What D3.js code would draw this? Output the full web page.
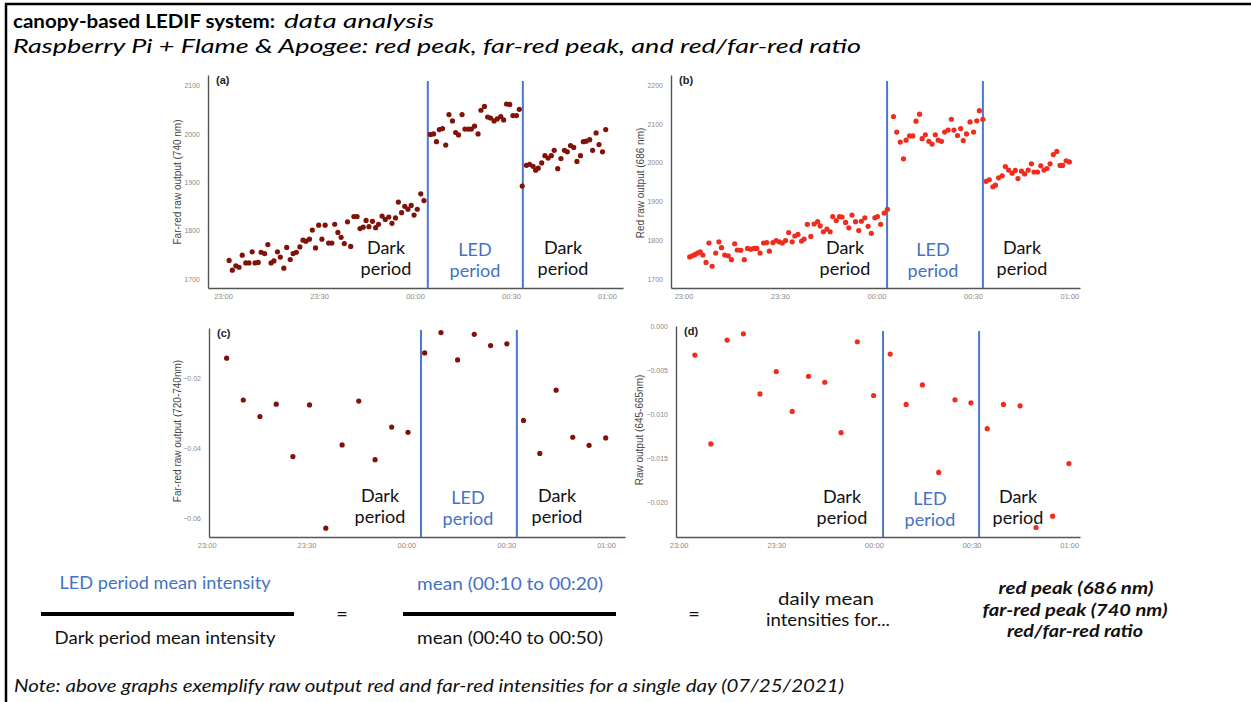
<!DOCTYPE html>
<html><head><meta charset="utf-8">
<script src="https://cdn.jsdelivr.net/npm/d3@7"></script>
<style>body{margin:0;background:#fff}svg{display:block}</style>
</head><body><svg id="c" width="1251" height="702"></svg>
<script>
// ---------- data (minutes after 23:00) ----------
const tickMinutes = [0, 30, 60, 90, 120];
const tickLabels = ["23:00", "23:30", "00:00", "00:30", "01:00"];

// (a) Far-red raw output (740 nm)
const farRedTimes = [1.9,2.9,4.0,5.0,6.0,7.1,8.1,9.1,10.0,11.0,11.9,13.0,14.0,15.0,15.9,17.0,17.9,19.0,19.9,21.0,21.9,22.9,24.0,25.0,25.9,27.0,27.9,28.9,29.9,30.9,31.9,33.0,34.0,34.9,35.9,36.9,37.9,38.9,39.9,40.9,41.9,42.8,43.8,44.7,45.6,46.7,47.7,48.6,49.7,50.7,51.8,52.8,53.9,54.8,55.8,56.8,57.8,58.8,59.7,60.7,61.8,62.8,
  64.8,65.8,66.7,67.6,68.6,69.6,70.6,71.7,72.7,73.6,74.7,75.6,76.7,77.6,78.6,79.7,80.6,81.7,82.7,83.6,84.7,85.7,86.8,87.7,88.6,89.6,90.6,91.7,92.6,
  93.5,94.8,95.8,96.9,97.7,98.5,99.6,100.6,101.6,102.6,103.5,104.6,105.6,106.7,107.6,108.6,109.6,110.6,111.7,112.6,113.5,114.6,115.5,116.6,117.5,118.6,119.6];
const farRedValues = [1738,1718,1727,1724,1749,1733,1733,1756,1733,1734,1755,1752,1771,1733,1737,1756,1745,1722,1765,1740,1752,1755,1766,1780,1778,1782,1801,1764,1811,1782,1811,1774,1774,1813,1796,1786,1773,1818,1767,1829,1829,1804,1807,1821,1808,1819,1806,1813,1830,1823,1828,1815,1826,1859,1837,1850,1844,1852,1832,1844,1876,1862,
  1999,2000,1984,2009,2011,1977,2040,2027,2003,1998,2040,2010,2010,2010,2016,2000,2049,2057,2035,2033,2027,2031,2036,2029,2062,2061,2038,2038,2051,
  1892,1935,1937,1933,1925,1929,1940,1955,1950,1955,1966,1928,1949,1966,1963,1976,1972,1943,1955,1984,1985,1988,1966,2002,1978,1963,2009];

// (b) Red raw output (686 nm)
const redTimes = [1.9,2.7,3.5,4.3,5.2,6.0,7.0,7.9,8.9,10.0,11.0,11.8,12.8,13.9,14.9,15.9,16.7,17.8,18.9,19.9,20.9,21.9,22.8,23.8,24.9,25.9,26.7,27.8,28.8,29.8,30.7,31.7,32.7,33.8,34.6,35.6,36.7,37.5,38.5,39.6,40.6,41.7,42.5,43.5,44.6,45.6,46.4,47.5,48.5,49.3,50.4,51.4,52.4,53.5,54.5,55.3,56.4,57.4,58.4,59.5,60.3,61.3,62.4,63.4,
  65.3,66.3,67.4,68.4,69.2,70.3,71.3,72.3,73.4,74.2,75.2,76.3,77.3,78.3,79.2,80.2,81.2,82.3,83.3,84.1,85.2,86.2,87.0,88.0,89.1,90.2,91.2,92.0,93.1,
  94.1,95.1,96.2,97.0,98.0,99.1,100.1,101.1,102.2,103.2,104.0,105.1,106.1,107.2,108.2,109.0,110.1,111.1,112.1,113.0,114.0,115.0,116.1,117.1,117.9,119.0,120.0];
const redValues = [1757,1760,1763,1767,1770,1762,1743,1793,1733,1767,1796,1781,1762,1760,1750,1791,1775,1774,1750,1779,1777,1779,1779,1767,1793,1794,1772,1794,1799,1796,1793,1799,1820,1796,1811,1815,1798,1803,1841,1810,1842,1848,1837,1822,1829,1822,1861,1851,1861,1860,1846,1832,1865,1848,1825,1849,1858,1836,1818,1858,1861,1841,1870,1880,
  2119,2079,2053,2010,2058,2069,2069,2107,2125,2062,2072,2055,2048,2072,2058,2055,2079,2084,2112,2084,2070,2088,2057,2074,2105,2079,2108,2134,2112,
  1952,1956,1938,1942,1961,1966,1990,1981,1973,1980,1959,1978,1971,1981,1997,1976,1976,1992,1981,1985,1997,2021,2029,1993,1993,2005,2002];

// (c) Far-red raw output (720-740nm)
const farRedBandTimes = [6.0,11.0,16.0,20.9,25.9,30.9,35.8,40.7,45.7,50.6,55.6,60.5,65.5,70.4,75.4,80.4,85.3,90.2,95.2,100.1,105.0,110.0,114.9,119.9];
const farRedBandValues = [-0.0143,-0.0262,-0.0309,-0.0274,-0.0423,-0.0276,-0.0627,-0.0390,-0.0265,-0.0432,-0.0339,-0.0354,-0.0128,-0.0070,-0.0148,-0.0075,-0.0107,-0.0102,-0.0320,-0.0414,-0.0234,-0.0368,-0.0391,-0.0370];

// (d) Raw output (645-665nm)
const redBandTimes = [5.0,9.9,14.9,19.9,25.0,30.0,34.9,39.9,44.9,49.9,54.9,59.9,65.0,69.9,74.9,79.9,84.9,89.8,94.8,99.8,104.9,109.8,114.9,119.9];
const redBandValues = [-0.00324,-0.01333,-0.00154,-0.00083,-0.00765,-0.00512,-0.00964,-0.00565,-0.00633,-0.01205,-0.00173,-0.00783,-0.00313,-0.00885,-0.00663,-0.01657,-0.00832,-0.00866,-0.01160,-0.00885,-0.00900,-0.02282,-0.02154,-0.01556];

// LED on / off marks (minutes after 23:00) per panel
const ledA = [64.0, 93.7];
const ledB = [63.3, 93.1];
const ledC = [64.4, 93.2];
const ledD = [62.8, 92.3];

const yTicksA = [1700, 1800, 1900, 2000, 2100];
const yTicksB = [1700, 1800, 1900, 2000, 2100, 2200];
const yTicksC = [-0.06, -0.04, -0.02];
const yTicksD = [-0.020, -0.015, -0.010, -0.005, 0.000];

// ---------- drawing ----------
const base = new Date(2021, 6, 24, 23, 0, 0);
const toDate = m => new Date(base.getTime() + m * 60000);
const svg = d3.select("#c");
const BLUE = "#4472c4";
const SANS = "'Liberation Sans', Arial, sans-serif";
const GEO = "Lato, 'Open Sans', sans-serif";

svg.append("path").attr("d", "M6,702V4H1251").attr("fill", "none")
  .attr("stroke", "#000").attr("stroke-width", 2.5);

function panel(c) {
  const x = d3.scaleTime().domain(c.xDom.map(toDate)).range([c.left, c.right]);
  const y = d3.scaleLinear().domain(c.yDom).range([c.bottom, c.top]);
  const g = svg.append("g");

  const xa = g.append("g").attr("transform", `translate(0,${c.bottom})`)
    .call(d3.axisBottom(x).tickValues(tickMinutes.map(toDate))
      .tickFormat((d, i) => tickLabels[i]).tickSize(0).tickSizeOuter(0).tickPadding(6));
  const ya = g.append("g").attr("transform", `translate(${c.left},0)`)
    .call(d3.axisLeft(y).tickValues(c.yTicks).tickFormat(c.fmt)
      .tickSize(0).tickSizeOuter(0).tickPadding(8));
  [xa, ya].forEach(a => {
    a.select(".domain").attr("stroke", "#555").attr("stroke-width", 1.4);
    a.selectAll("text").attr("fill", "#8a8a8a").style("font-family", SANS);
  });
  xa.selectAll("text").style("font-size", "7.5px");
  ya.selectAll("text").style("font-size", "7px");

  g.append("text").attr("transform", `translate(${c.titleX},${c.titleY}) rotate(-90)`)
    .attr("text-anchor", "middle").attr("dominant-baseline", "central")
    .style("font-family", SANS).style("font-size", "10px").attr("fill", "#444").text(c.title);

  g.append("text").attr("x", c.left + 8).attr("y", c.top + 9)
    .style("font-family", SANS).style("font-size", "11px").style("font-weight", "bold")
    .attr("fill", "#222").text(c.tag);

  g.selectAll("line.led").data(c.led).join("line").attr("class", "led")
    .attr("x1", d => x(toDate(d))).attr("x2", d => x(toDate(d)))
    .attr("y1", c.lineTop).attr("y2", c.bottom)
    .attr("stroke", "#4a78cc").attr("stroke-width", 2);

  g.selectAll("circle").data(d3.zip(c.times, c.values)).join("circle")
    .attr("cx", d => x(toDate(d[0]))).attr("cy", d => y(d[1]))
    .attr("r", 2.6).attr("fill", c.color);

  c.labels.forEach(l => {
    const t = g.append("text").attr("text-anchor", "middle")
      .style("font-family", GEO).style("font-size", "18px").attr("fill", l.blue ? BLUE : "#111");
    t.append("tspan").attr("x", l.x).attr("y", l.y).text(l.blue ? "LED" : "Dark");
    t.append("tspan").attr("x", l.x).attr("y", l.y + 21).text("period");
  });
}

panel({left: 208, right: 623, top: 75, bottom: 288, lineTop: 81,
  xDom: [-4.7, 125], yDom: [1681, 2122], yTicks: yTicksA, fmt: d3.format("d"),
  times: farRedTimes, values: farRedValues, led: ledA, color: "#801208",
  title: "Far-red raw output (740 nm)", titleX: 177, titleY: 182, tag: "(a)",
  labels: [{x: 386, y: 254}, {x: 475, y: 256, blue: true}, {x: 563, y: 254}]});

panel({left: 671, right: 1080, top: 75, bottom: 288, lineTop: 81,
  xDom: [-3.9, 123.3], yDom: [1677, 2226], yTicks: yTicksB, fmt: d3.format("d"),
  times: redTimes, values: redValues, led: ledB, color: "#f02c1c",
  title: "Red raw output (686 nm)", titleX: 640, titleY: 183, tag: "(b)",
  labels: [{x: 845, y: 254}, {x: 933, y: 256, blue: true}, {x: 1022, y: 254}]});

panel({left: 209, right: 625, top: 328, bottom: 537, lineTop: 330,
  xDom: [0.7, 125.7], yDom: [-0.0652, -0.0057], yTicks: yTicksC, fmt: d3.format(".2f"),
  times: farRedBandTimes, values: farRedBandValues, led: ledC, color: "#801208",
  title: "Far-red raw output (720-740nm)", titleX: 177, titleY: 431, tag: "(c)",
  labels: [{x: 380, y: 502}, {x: 468, y: 504, blue: true}, {x: 557, y: 502}]});

panel({left: 676, right: 1080, top: 326, bottom: 537, lineTop: 331,
  xDom: [-0.8, 123.3], yDom: [-0.0239, 0.00006], yTicks: yTicksD, fmt: d3.format(".3f"),
  times: redBandTimes, values: redBandValues, led: ledD, color: "#f02c1c",
  title: "Raw output (645-665nm)", titleX: 639, titleY: 430, tag: "(d)",
  labels: [{x: 842, y: 503}, {x: 930, y: 505, blue: true}, {x: 1018, y: 503}]});

// ---------- titles & formula ----------
function txt(o) {
  const t = svg.append("text").attr("x", o.x).attr("y", o.y)
    .attr("text-anchor", o.anchor || "start")
    .style("font-family", GEO).style("font-size", (o.size || 17) + "px")
    .style("font-weight", o.bold ? "bold" : "normal")
    .style("font-style", o.italic ? "italic" : "normal")
    .attr("fill", o.fill || "#111").text(o.text);
  if (o.w) t.attr("textLength", o.w).attr("lengthAdjust", "spacingAndGlyphs");
  return t;
}
txt({x: 13, y: 28, text: "canopy-based LEDIF system:", bold: true, size: 19, w: 262, fill: "#000"});
txt({x: 284, y: 28, text: "data analysis", italic: true, size: 19, w: 150, fill: "#000"});
txt({x: 13, y: 53, text: "Raspberry Pi + Flame & Apogee: red peak, far-red peak, and red/far-red ratio", italic: true, size: 19, w: 848, fill: "#000"});

txt({x: 165, y: 589, text: "LED period mean intensity", anchor: "middle", fill: BLUE, w: 211});
txt({x: 165, y: 644, text: "Dark period mean intensity", anchor: "middle", w: 221});
txt({x: 510, y: 590, text: "mean (00:10 to 00:20)", anchor: "middle", fill: BLUE, w: 186});
txt({x: 510, y: 644, text: "mean (00:40 to 00:50)", anchor: "middle", w: 186});
svg.append("line").attr("x1", 41).attr("x2", 294).attr("y1", 614).attr("y2", 614).attr("stroke", "#000").attr("stroke-width", 4);
svg.append("line").attr("x1", 403).attr("x2", 616).attr("y1", 614).attr("y2", 614).attr("stroke", "#000").attr("stroke-width", 4);
txt({x: 342, y: 621, text: "=", anchor: "middle", size: 20});
txt({x: 694, y: 621, text: "=", anchor: "middle", size: 20});
txt({x: 826, y: 605, text: "daily mean", anchor: "middle", w: 96});
txt({x: 828, y: 626, text: "intensities for...", anchor: "middle", w: 124});
txt({x: 1076, y: 594, text: "red peak (686 nm)", anchor: "middle", bold: true, italic: true, w: 155});
txt({x: 1075, y: 616, text: "far-red peak (740 nm)", anchor: "middle", bold: true, italic: true, w: 185});
txt({x: 1075, y: 637, text: "red/far-red ratio", anchor: "middle", bold: true, italic: true, w: 136});
txt({x: 14, y: 692, text: "Note: above graphs exemplify raw output red and far-red intensities for a single day (07/25/2021)", italic: true, w: 830});
</script></body></html>
